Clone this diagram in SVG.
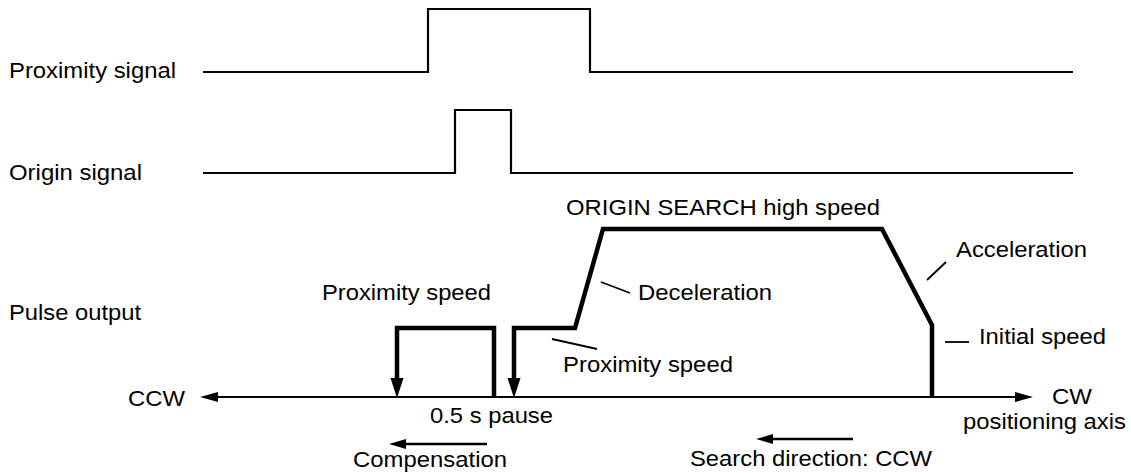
<svg xmlns="http://www.w3.org/2000/svg" width="1131" height="473" viewBox="0 0 1131 473">
<style>
text{font-family:"Liberation Sans",Arial,sans-serif;font-size:21.5px;fill:#000}
.sig{fill:none;stroke:#000;stroke-width:2.2}
.pulse{fill:none;stroke:#000;stroke-width:4.5;stroke-linejoin:miter}
.lead{fill:none;stroke:#000;stroke-width:1.8}
.axis{fill:none;stroke:#000;stroke-width:2.2}
.dir{fill:none;stroke:#000;stroke-width:2.5}
</style>
<rect width="1131" height="473" fill="#fff"/>
<g id="labels">
<text x="9" y="78" textLength="167" lengthAdjust="spacingAndGlyphs">Proximity signal</text>
<text x="9" y="180" textLength="133" lengthAdjust="spacingAndGlyphs">Origin signal</text>
<text x="9" y="320" textLength="132" lengthAdjust="spacingAndGlyphs">Pulse output</text>
</g>
<g id="proximity-signal">
<polyline class="sig" points="203,72 428,72 428,9 590,9 590,72 1073,72"/>
</g>
<g id="origin-signal">
<polyline class="sig" points="203,173 455,173 455,110 511,110 511,173 1073,173"/>
</g>
<g id="axis">
<line class="axis" x1="1015" y1="397" x2="218" y2="397"/>
<path d="M200,397 L218,392 L218,402 z" fill="#000"/>
<path d="M1033,397 L1015,392 L1015,402 z" fill="#000"/>
<text x="128" y="406" textLength="57" lengthAdjust="spacingAndGlyphs">CCW</text>
<text x="1052" y="404" textLength="40" lengthAdjust="spacingAndGlyphs">CW</text>
<text x="963" y="429" textLength="163" lengthAdjust="spacingAndGlyphs">positioning axis</text>
</g>
<g id="connectors">
<path class="pulse" d="M494,397 L494,328 L397,328 L397,380"/>
<path d="M397,398 L390.5,378 L403.5,378 z" fill="#000"/>
<path class="pulse" d="M932,397 L932,325 L882,229 L603,229 L575,328 L514,328 L514,380"/>
<path d="M514,398 L507.5,378 L520.5,378 z" fill="#000"/>
<line class="lead" x1="601" y1="282" x2="630" y2="293"/>
<line class="lead" x1="552" y1="339" x2="597" y2="349"/>
<line class="lead" x1="927" y1="280" x2="946" y2="262"/>
<line class="lead" x1="945" y1="342" x2="969" y2="342"/>
<line class="dir" x1="487" y1="444" x2="404" y2="444"/>
<path d="M389,444 L406,439 L406,449 z" fill="#000"/>
<line class="dir" x1="853" y1="439" x2="770" y2="439"/>
<path d="M756,439 L773,434 L773,444 z" fill="#000"/>
</g>
<g id="speed-labels">
<text x="322" y="300" textLength="169" lengthAdjust="spacingAndGlyphs">Proximity speed</text>
<text x="566" y="215" textLength="314" lengthAdjust="spacingAndGlyphs">ORIGIN SEARCH high speed</text>
<text x="638" y="300" textLength="134" lengthAdjust="spacingAndGlyphs">Deceleration</text>
<text x="956" y="257" textLength="131" lengthAdjust="spacingAndGlyphs">Acceleration</text>
<text x="979" y="344" textLength="127" lengthAdjust="spacingAndGlyphs">Initial speed</text>
<text x="563" y="372" textLength="170" lengthAdjust="spacingAndGlyphs">Proximity speed</text>
</g>
<g id="bottom-labels">
<text x="430" y="423" textLength="123" lengthAdjust="spacingAndGlyphs">0.5 s pause</text>
<text x="353" y="467" textLength="154" lengthAdjust="spacingAndGlyphs">Compensation</text>
<text x="690" y="466" textLength="242" lengthAdjust="spacingAndGlyphs">Search direction: CCW</text>
</g>
</svg>
